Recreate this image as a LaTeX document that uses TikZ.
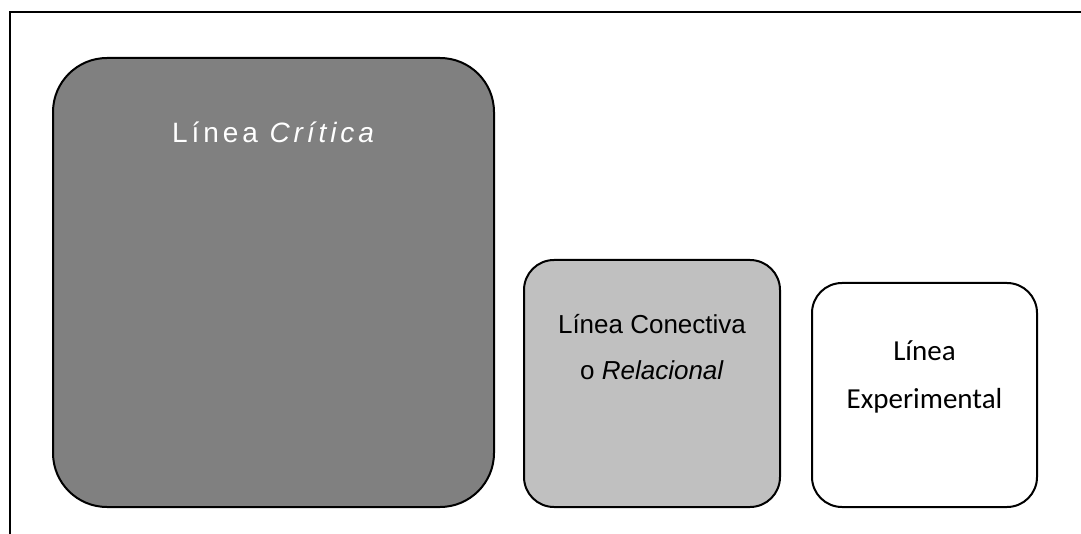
\documentclass[tikz,border=0pt]{standalone}
\usepackage{fontspec}
\setmainfont{Liberation Sans}
\newfontfamily\critfont[LetterSpace=14]{Liberation Sans}
\newfontfamily\arialfont{Liberation Sans}
\newfontfamily\calfont{Carlito}
\definecolor{darkbox}{HTML}{808080}
\definecolor{lightbox}{HTML}{C0C0C0}
\begin{document}
\begin{tikzpicture}[x=1pt,y=-1pt,
  box/.style={draw=black, line width=2pt, inner sep=0pt},
  lbl/.style={inner sep=0pt, anchor=base}]
\useasboundingbox (0,0) rectangle (1081,534);
% outer frame (left and top edges)
\coordinate (fbl) at (10,534);
\coordinate (ftl) at (10,12);
\coordinate (ftr) at (1081,12);
\draw[line width=1.5pt] (fbl) -- (ftl) -- (ftr);
% boxes
\node[box, fill=darkbox, rounded corners=54pt, minimum width=441pt, minimum height=449pt] (b1) at (273.5,282.5) {};
\node[box, fill=lightbox, rounded corners=30pt, minimum width=256pt, minimum height=247pt] (b2) at (652,383.5) {};
\node[box, fill=white, rounded corners=30pt, minimum width=225pt, minimum height=224pt] (b3) at (924.5,395) {};
% labels
\node[lbl, text=white, font=\critfont\fontsize{28}{33}\selectfont] (t1) at (275,143) {Línea \textit{Crítica}};
\node[lbl, font=\arialfont\fontsize{26}{31}\selectfont] (t2a) at (652,334) {Línea Conectiva};
\node[lbl, font=\arialfont\fontsize{26}{31}\selectfont] (t2b) at (652,379) {o \textit{Relacional}};
\node[lbl, font=\calfont\fontsize{29}{34}\selectfont] (t3a) at (924.5,360) {Línea};
\node[lbl, font=\calfont\fontsize{29}{34}\selectfont] (t3b) at (924.5,408) {Experimental};
\end{tikzpicture}
\end{document}
